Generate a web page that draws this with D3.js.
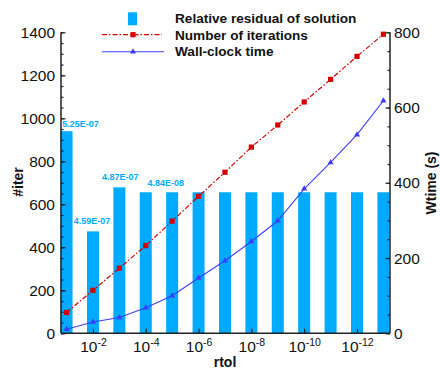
<!DOCTYPE html>
<html>
<head>
<meta charset="utf-8">
<script src="https://cdn.jsdelivr.net/npm/d3@7"></script>
<style>
  html, body { margin: 0; padding: 0; background: #fff; }
  svg { display: block; font-family: "Liberation Sans", Arial, Helvetica, sans-serif; }
</style>
</head>
<body>
<svg id="chart" width="440" height="369"></svg>
<script>
// rtol exponents (rtol = 10^exp)
const rtolExp = [-1, -2, -3, -4, -5, -6, -7, -8, -9, -10, -11, -12, -13];
// bar heights on the #iter axis
const barHeight = [940, 474, 679, 656, 656, 656, 656, 656, 656, 656, 656, 656, 656];
// relative residual labels shown above the first bars
const residualLabels = ["5.25E-07", "4.59E-07", "4.87E-07", "4.84E-08"];
// number of iterations (left axis)
const iterations = [97, 200, 303, 408, 522, 637, 749, 866, 969, 1076, 1181, 1288, 1391];
// wall-clock time in seconds (right axis)
const wtime = [11, 30, 42, 68, 100, 147, 193, 244, 299, 384, 454, 528, 618];
// axis ticks
const xTickExp = [-2, -4, -6, -8, -10, -12];
const leftTicks = [0, 200, 400, 600, 800, 1000, 1200, 1400];
const rightTicks = [0, 200, 400, 600, 800];
const legendLabels = ["Relative residual of solution", "Number of iterations", "Wall-clock time"];

const svg = d3.select("#chart");
const plotLeft = 61, plotRight = 390, plotTop = 32.3, plotBottom = 333.3;

const x = d3.scaleLog().domain([Math.pow(10, -0.79), Math.pow(10, -13.25)]).range([plotLeft, plotRight]);
const yL = d3.scaleLinear().domain([0, 1400]).range([plotBottom, plotTop]);
const yR = d3.scaleLinear().domain([0, 800]).range([plotBottom, plotTop]);

const barColor = "#00aaff";
const redColor = "#d40000";
const blueColor = "#3c3cff";
const axisColor = "#222";

// bars
const barW = 12;
svg.append("g").selectAll("rect").data(rtolExp).join("rect")
  .attr("x", (e) => x(Math.pow(10, e)) - barW / 2)
  .attr("y", (e, i) => yL(barHeight[i]))
  .attr("width", barW)
  .attr("height", (e, i) => yL(0) - yL(barHeight[i]))
  .attr("fill", barColor);

// iterations line (dash-dot)
const lineIter = d3.line().x((d, i) => x(Math.pow(10, rtolExp[i]))).y(d => yL(d));
svg.append("path").datum(iterations)
  .attr("d", lineIter).attr("fill", "none")
  .attr("stroke", redColor).attr("stroke-width", 1.2)
  .attr("stroke-dasharray", "5,2,1.5,2");
svg.append("g").selectAll("rect").data(iterations).join("rect")
  .attr("x", (d, i) => x(Math.pow(10, rtolExp[i])) - 2.6)
  .attr("y", d => yL(d) - 2.6)
  .attr("width", 5.2).attr("height", 5.2)
  .attr("fill", redColor);

// wall-clock line
const lineTime = d3.line().x((d, i) => x(Math.pow(10, rtolExp[i]))).y(d => yR(d));
svg.append("path").datum(wtime)
  .attr("d", lineTime).attr("fill", "none")
  .attr("stroke", blueColor).attr("stroke-width", 1.1);
const tri = d3.symbol().type(d3.symbolTriangle).size(16);
svg.append("g").selectAll("path").data(wtime).join("path")
  .attr("d", tri)
  .attr("transform", (d, i) => `translate(${x(Math.pow(10, rtolExp[i]))},${yR(d)})`)
  .attr("fill", blueColor);

// axes
function styleAxis(g) {
  g.select(".domain").remove();
  g.selectAll("line").attr("stroke", axisColor).attr("stroke-width", 1.2);
  g.selectAll("text").attr("fill", "#111").attr("font-size", 15.5)
    .attr("font-family", "Liberation Sans, Arial, sans-serif");
}

// left axis: major + minor, ticks pointing inward
svg.append("g").attr("transform", `translate(${plotLeft},0)`)
  .call(d3.axisLeft(yL).tickValues(d3.range(0, 1401, 50)).tickSize(-2.5).tickFormat(""))
  .call(styleAxis);
svg.append("g").attr("transform", `translate(${plotLeft},0)`)
  .call(d3.axisLeft(yL).tickValues(leftTicks).tickSize(-4.5).tickPadding(6).tickFormat(d3.format("d")))
  .call(styleAxis);

// right axis
svg.append("g").attr("transform", `translate(${plotRight},0)`)
  .call(d3.axisRight(yR).tickValues(d3.range(0, 801, 50)).tickSize(-2.5).tickFormat(""))
  .call(styleAxis);
svg.append("g").attr("transform", `translate(${plotRight},0)`)
  .call(d3.axisRight(yR).tickValues(rightTicks).tickSize(-4.5).tickPadding(4).tickFormat(d3.format("d")))
  .call(styleAxis);

// bottom axis with superscript labels
const xAxisG = svg.append("g").attr("transform", `translate(0,${plotBottom})`)
  .call(d3.axisBottom(x).tickValues(xTickExp.map(e => Math.pow(10, e))).tickSize(-4.5).tickFormat(""))
  .call(styleAxis);
xAxisG.selectAll(".tick").each(function (d) {
  const e = Math.round(Math.log10(d));
  const t = d3.select(this).append("text")
    .attr("y", 18.5).attr("text-anchor", "middle")
    .attr("fill", "#111").attr("font-size", 15.5);
  t.append("tspan").text("10");
  t.append("tspan").attr("dy", -6).attr("font-size", 10.5).text(String(e));
});

// axis frame lines
svg.append("line").attr("x1", plotLeft).attr("x2", plotLeft).attr("y1", plotTop).attr("y2", plotBottom)
  .attr("stroke", axisColor).attr("stroke-width", 1.5);
svg.append("line").attr("x1", plotRight).attr("x2", plotRight).attr("y1", plotTop).attr("y2", plotBottom)
  .attr("stroke", axisColor).attr("stroke-width", 1.5);
svg.append("line").attr("x1", plotLeft).attr("x2", plotRight).attr("y1", plotBottom).attr("y2", plotBottom)
  .attr("stroke", axisColor).attr("stroke-width", 1.5);

// residual labels above bars
const labelDx = [14, -1, 1, 20];
const labelDy = [4, 7, 7, 6];
svg.append("g").selectAll("text").data(residualLabels).join("text")
  .attr("x", (d, i) => x(Math.pow(10, rtolExp[i])) + labelDx[i])
  .attr("y", (d, i) => yL(barHeight[i]) - labelDy[i])
  .attr("text-anchor", "middle")
  .attr("font-size", 9)
  .attr("font-weight", "bold")
  .attr("fill", barColor)
  .text(d => d);

// axis titles
svg.append("text").attr("transform", "translate(23,182) rotate(-90)")
  .attr("text-anchor", "middle").attr("font-size", 14).attr("font-weight", "bold")
  .attr("fill", "#111").text("#iter");
svg.append("text").attr("transform", "translate(436,183) rotate(-90)")
  .attr("text-anchor", "middle").attr("font-size", 14).attr("font-weight", "bold")
  .attr("fill", "#111").text("Wtime (s)");
svg.append("text").attr("x", 225).attr("y", 367)
  .attr("text-anchor", "middle").attr("font-size", 14).attr("font-weight", "bold")
  .attr("fill", "#111").text("rtol");

// legend
const lg = svg.append("g");
lg.append("rect").attr("x", 128).attr("y", 12.3).attr("width", 9).attr("height", 13).attr("fill", barColor);
lg.append("line").attr("x1", 102).attr("x2", 162).attr("y1", 34.7).attr("y2", 34.7)
  .attr("stroke", redColor).attr("stroke-width", 1.2).attr("stroke-dasharray", "5,2,1.5,2");
lg.append("rect").attr("x", 133 - 2.6).attr("y", 34.7 - 2.6).attr("width", 5.2).attr("height", 5.2).attr("fill", redColor);
lg.append("line").attr("x1", 102).attr("x2", 164).attr("y1", 51.7).attr("y2", 51.7)
  .attr("stroke", blueColor).attr("stroke-width", 1.1);
lg.append("path").attr("d", tri).attr("transform", "translate(133,51.7)").attr("fill", blueColor);
lg.selectAll("text").data(legendLabels).join("text")
  .attr("x", 175).attr("y", (d, i) => [23.3, 39.6, 56][i])
  .attr("font-size", 13.6).attr("font-weight", "bold").attr("fill", "#111")
  .text(d => d);
</script>
</body>
</html>
